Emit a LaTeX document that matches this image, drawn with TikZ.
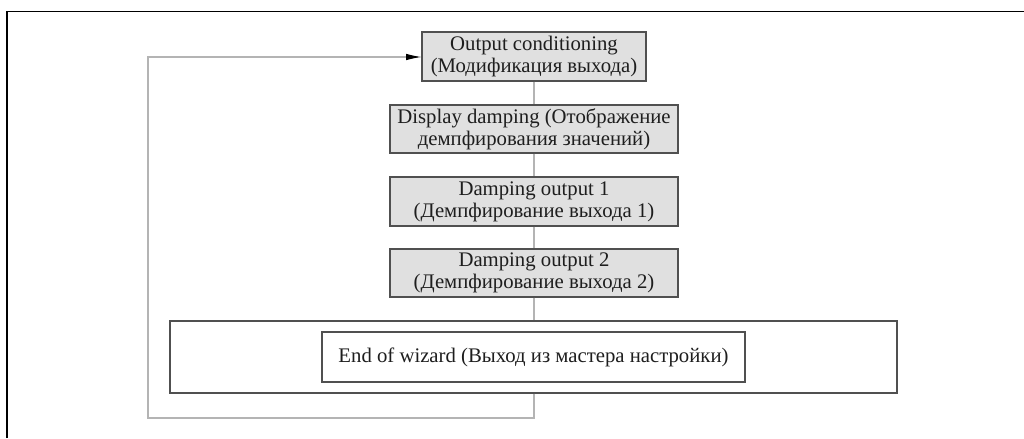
\documentclass[tikz,border=0pt]{standalone}
\usepackage{fontspec}
\setmainfont{Liberation Serif}
\usetikzlibrary{arrows.meta}
\definecolor{boxfill}{HTML}{E0E0E0}
\definecolor{boxline}{HTML}{505050}
\definecolor{conn}{HTML}{B4B4B4}
\definecolor{txt}{HTML}{1E1E1E}
\tikzset{
  stepbox/.style={draw=boxline, line width=0.9pt, fill=boxfill, inner sep=0pt, align=center,
    text=txt, font=\fontsize{17.7}{18.7}\selectfont},
  plainbox/.style={draw=boxline, line width=0.9pt, fill=white, inner sep=0pt, align=center,
    text=txt, font=\fontsize{17.7}{18.7}\selectfont},
  connline/.style={draw=conn, line width=0.9pt},
  frameline/.style={draw=black, line width=1.3pt}
}
\begin{document}
\begin{tikzpicture}[x=0.03cm,y=-0.03cm]
\useasboundingbox (0,0) rectangle (1024,438);
% frame (top and left edges)
\draw[frameline] (7,438) -- (7,11.5) -- (1024,11.5);
% boxes
\node[plainbox, minimum width=727*0.03cm, minimum height=72*0.03cm] (big) at (533.5,357) {};
\node[stepbox, minimum width=224*0.03cm, minimum height=49*0.03cm] (oc) at (534,56.5) {Output conditioning\\(Модификация выхода)};
\node[stepbox, minimum width=288*0.03cm, minimum height=48*0.03cm] (dd) at (534,129) {Display damping (Отображение\\демпфирования значений)};
\node[stepbox, minimum width=288*0.03cm, minimum height=49*0.03cm] (d1) at (534,201.5) {Damping output 1\\(Демпфирование выхода 1)};
\node[stepbox, minimum width=288*0.03cm, minimum height=48*0.03cm] (d2) at (534,273) {Damping output 2\\(Демпфирование выхода 2)};
\node[plainbox, minimum width=423*0.03cm, minimum height=50*0.03cm] (ew) at (533.5,357) {End of wizard (Выход из мастера настройки)};
% connectors
\draw[connline] (oc.south) -- (dd.north);
\draw[connline] (dd.south) -- (d1.north);
\draw[connline] (d1.south) -- (d2.north);
\draw[connline] (d2.south) -- (d2.south |- big.north);
\coordinate (c1) at (534,418);
\coordinate (c2) at (148,418);
\coordinate (c3) at (148,57);
\draw[connline, -{Latex[length=13pt,width=5.5pt,black]}] (big.south -| oc.south) -- (c1) -- (c2) -- (c3) -- (c3 -| oc.west);
\end{tikzpicture}
\end{document}
